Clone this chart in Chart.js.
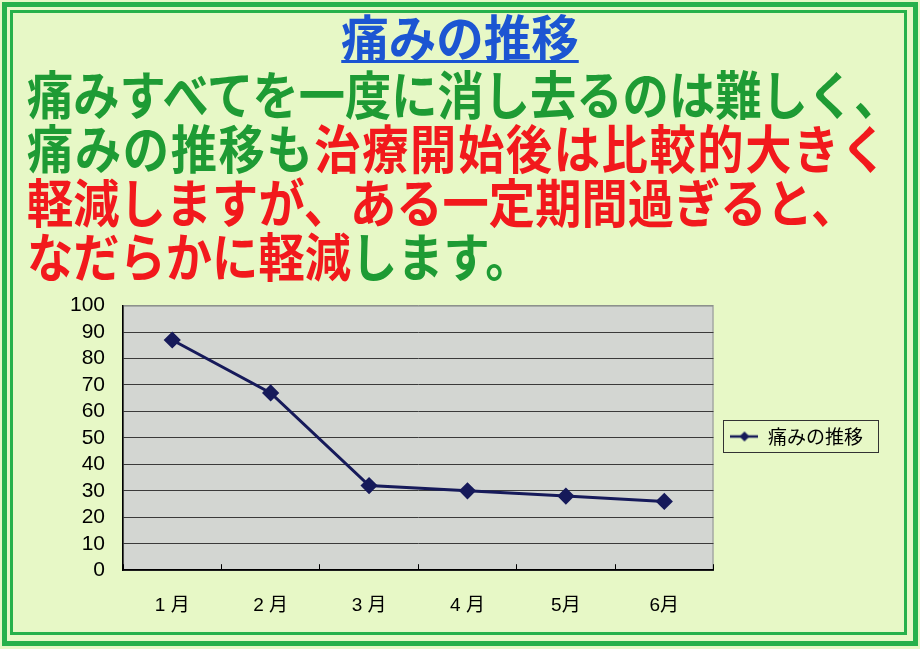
<!DOCTYPE html>
<html lang="ja">
<head>
<meta charset="utf-8">
<script src="https://cdn.jsdelivr.net/npm/chart.js@4.4.1/dist/chart.umd.min.js"></script>
<style>
  html, body { margin: 0; padding: 0; }
  body {
    width: 920px; height: 649px; position: relative; overflow: hidden;
    background: #e7f8c6;
    font-family: "Noto Sans CJK JP", sans-serif;
  }
  .frame1 { position: absolute; left: 2px; top: 2px; width: 906px; height: 634px; border: 5px solid #27b14b; }
  .frame2 { position: absolute; left: 10px; top: 10px; width: 891px; height: 619px; border: 3px solid #27b14b; }
  .title {
    position: absolute; left: 0; width: 920px; top: 7px; text-align: center;
    font-size: 50px; line-height: 56px; color: #1c55d2; font-weight: 700;
  }
  .title span { display: inline-block; border-bottom: 3px solid #1c55d2; line-height: 49px; transform: scaleX(0.95); }
  .body {
    position: absolute; left: 27px; top: 66px; width: 1000px;
    font-size: 52px; line-height: 54px; font-weight: 700;
    transform: scaleX(0.89); transform-origin: left top; white-space: nowrap;
  }
  .wide { letter-spacing: 1.8px; }
  .g { color: #1e9b34; }
  .r { color: #f2191c; }
  #wrap { position: absolute; left: 0; top: 275px; width: 920px; height: 372px; }
</style>
</head>
<body>
<div class="frame1"></div>
<div class="frame2"></div>
<div class="title"><span>痛みの推移</span></div>
<div class="body">
  <div><span class="g">痛みすべてを一度に消し去るのは難しく、</span></div>
  <div class="wide"><span class="g">痛みの推移も</span><span class="r">治療開始後は比較的大きく</span></div>
  <div><span class="r">軽減しますが、ある一定期間過ぎると、</span></div>
  <div><span class="r">なだらかに軽減</span><span class="g">します。</span></div>
</div>
<div id="wrap"><canvas id="chart" width="920" height="372"></canvas></div>
<script>
const months = ["1 月", "2 月", "3 月", "4 月", "5月", "6月"];
const painValues = [87, 67, 32, 30, 28, 26];
const seriesName = "痛みの推移";
const lineColor = "#161a5a";

// legend symbol: line with diamond
const sym = document.createElement("canvas");
sym.width = 28; sym.height = 12;
const sctx = sym.getContext("2d");
sctx.strokeStyle = lineColor; sctx.lineWidth = 2.5;
sctx.beginPath(); sctx.moveTo(0, 6); sctx.lineTo(28, 6); sctx.stroke();
sctx.fillStyle = lineColor;
sctx.beginPath(); sctx.moveTo(14, 1); sctx.lineTo(19, 6); sctx.lineTo(14, 11); sctx.lineTo(9, 6); sctx.closePath(); sctx.fill();

const plotBg = {
  id: "plotBg",
  beforeDraw(chart) {
    const { ctx, chartArea: a } = chart;
    ctx.save();
    ctx.fillStyle = "#d3d6d2";
    ctx.fillRect(a.left, a.top, a.right - a.left, a.bottom - a.top);
    ctx.strokeStyle = "#8d918d";
    ctx.lineWidth = 1;
    ctx.strokeRect(a.left + 0.5, a.top + 0.5, a.right - a.left - 1, a.bottom - a.top - 1);
    ctx.restore();
  },
  afterDraw(chart) {
    const lg = chart.legend;
    if (!lg || !lg.legendHitBoxes || !lg.legendHitBoxes.length) return;
    const h = lg.legendHitBoxes[0];
    const ctx = chart.ctx;
    ctx.save();
    ctx.strokeStyle = "#333";
    ctx.lineWidth = 1;
    ctx.strokeRect(Math.round(h.left - 7) + 0.5, Math.round(h.top - 7) + 0.5, Math.round(h.width + 22), Math.round(h.height + 13));
    ctx.restore();
  }
};

new Chart(document.getElementById("chart"), {
  type: "line",
  data: {
    labels: months,
    datasets: [{
      label: seriesName,
      data: painValues,
      borderColor: lineColor,
      backgroundColor: lineColor,
      borderWidth: 3,
      pointStyle: "rectRot",
      pointRadius: 6.5,
      pointHoverRadius: 6.5,
      tension: 0
    }]
  },
  options: {
    responsive: false,
    animation: false,
    layout: { padding: { left: 52, right: 47, top: 20, bottom: 0 } },
    plugins: {
      tooltip: { enabled: false },
      legend: {
        position: "right",
        align: "start",
        title: { display: true, text: " ", font: { size: 10 }, padding: { top: 103, bottom: 0 } },
        labels: {
          usePointStyle: true,
          pointStyleWidth: 28,
          padding: 17,
          color: "#000",
          font: { family: "'Noto Sans CJK JP'", size: 19 },
          generateLabels: (chart) => chart.data.datasets.map((ds, i) => ({
            text: ds.label,
            pointStyle: sym,
            datasetIndex: i,
            fillStyle: lineColor,
            strokeStyle: lineColor,
            fontColor: "#000",
            hidden: false,
            lineWidth: 0
          }))
        }
      }
    },
    scales: {
      x: {
        offset: true,
        grid: {
          offset: true,
          drawOnChartArea: false,
          drawTicks: true,
          tickLength: -6,
          color: "#000"
        },
        border: { color: "#000", width: 1.5 },
        ticks: {
          padding: 30,
          color: "#000",
          font: { family: "'Liberation Sans', 'Noto Sans CJK JP'", size: 19 }
        }
      },
      y: {
        min: 0,
        max: 100,
        grid: {
          drawTicks: false,
          color: (c) => (c.tick && c.tick.value === 100 ? "#8d918d" : "#3a3a3a"),
          lineWidth: 1
        },
        border: { color: "#000", width: 1.5 },
        ticks: {
          stepSize: 10,
          autoSkip: false,
          padding: 18,
          color: "#000",
          font: { family: "'Liberation Sans'", size: 21 }
        }
      }
    }
  },
  plugins: [plotBg]
});
</script>
</body>
</html>
